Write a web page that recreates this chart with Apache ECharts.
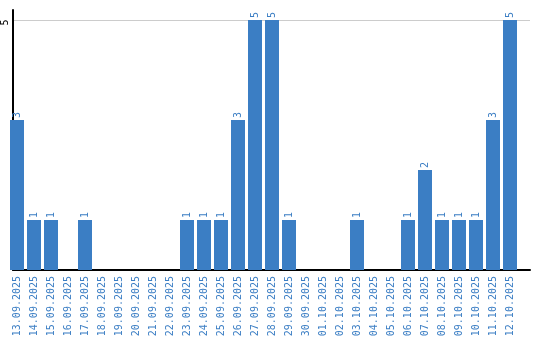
<!DOCTYPE html>
<html><head><meta charset="utf-8">
<script src="https://cdn.jsdelivr.net/npm/echarts@6/dist/echarts.min.js"></script>
<style>html,body{margin:0;padding:0;background:#fff}#c{width:540px;height:340px}</style>
</head><body><div id="c"></div>
<script>
var categories = ['13.09.2025','14.09.2025','15.09.2025','16.09.2025','17.09.2025','18.09.2025','19.09.2025','20.09.2025','21.09.2025','22.09.2025','23.09.2025','24.09.2025','25.09.2025','26.09.2025','27.09.2025','28.09.2025','29.09.2025','30.09.2025','01.10.2025','02.10.2025','03.10.2025','04.10.2025','05.10.2025','06.10.2025','07.10.2025','08.10.2025','09.10.2025','10.10.2025','11.10.2025','12.10.2025'];
var values = [3,1,1,0,1,0,0,0,0,0,1,1,1,3,5,5,1,0,0,0,1,0,0,1,2,1,1,1,3,5];
var yMax = 5.2;
var yInterval = 5;

var blue = '#3b7ec4';
var chart = echarts.init(document.getElementById('c'), null, {renderer:'canvas'});
chart.setOption({
  animation: false,
  grid: [
    {left: 10, right: 10, top: 10, bottom: 70},
    {left: 8.5, width: 510, top: 10, bottom: 70}
  ],
  xAxis: [
    {gridIndex: 0, type: 'value', min: 0, max: 1, axisLine: {show: true, onZero: false, lineStyle: {color: '#000', width: 2}}, axisTick: {show: false}, axisLabel: {show: false}, splitLine: {show: false}},
    {gridIndex: 1, type: 'category', data: categories, axisLine: {show: false}, axisTick: {show: false},
     axisLabel: {interval: 0, rotate: 90, margin: 6, color: blue, fontFamily: 'DejaVu Sans Mono', fontSize: 10}}
  ],
  yAxis: [
    {gridIndex: 0, type: 'value', min: 0, max: yMax, interval: yInterval,
     axisLine: {show: true, lineStyle: {color: '#000', width: 2}}, axisTick: {show: false},
     axisLabel: {rotate: 90, margin: 3, color: '#000', fontFamily: 'DejaVu Sans Mono', fontSize: 10, padding: [0, 5, 0, 0], showMinLabel: false, showMaxLabel: false},
     splitLine: {show: true, showMinLine: false, showMaxLine: false, lineStyle: {color: '#cccccc', width: 1}}},
    {gridIndex: 1, type: 'value', min: 0, max: yMax, show: false}
  ],
  series: [{
    type: 'bar', xAxisIndex: 1, yAxisIndex: 1, data: values.map(function(v){return v === 0 ? null : v;}), barWidth: 14,
    itemStyle: {color: blue},
    label: {show: true, position: 'top', rotate: 90, align: 'left', verticalAlign: 'middle', distance: 2,
            color: blue, fontFamily: 'DejaVu Sans Mono', fontSize: 10}
  }]
});
</script></body></html>
